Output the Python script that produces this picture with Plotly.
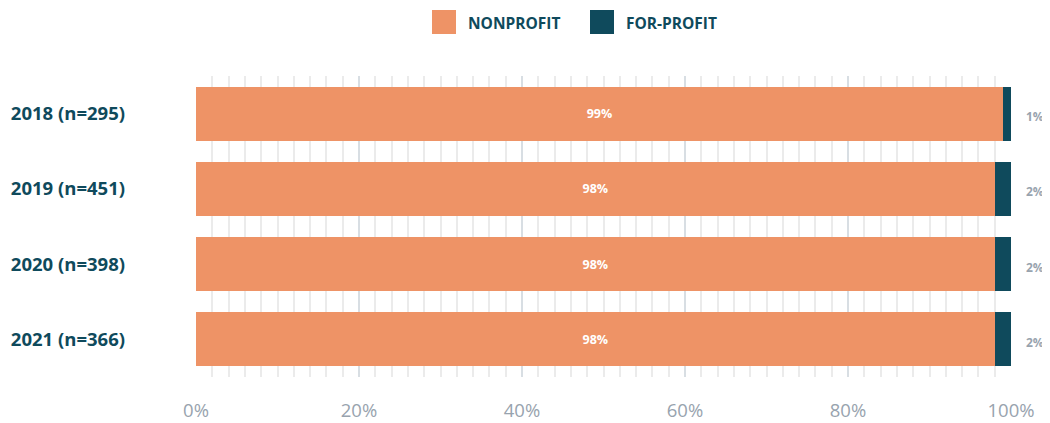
import plotly.graph_objects as go

years = ["2018 (n=295)", "2019 (n=451)", "2020 (n=398)", "2021 (n=366)"]
nonprofit = [99, 98, 98, 98]
forprofit = [1, 2, 2, 2]
series_names = ["NONPROFIT", "FOR-PROFIT"]
tick_vals = [0, 20, 40, 60, 80, 100]
tick_text = ["0%", "20%", "40%", "60%", "80%", "100%"]

orange = "#EE9366"
teal = "#0F4A5C"
grey = "#98A3AE"
font = "Open Sans"

fig = go.Figure()
fig.add_trace(go.Bar(
    y=years, x=nonprofit, orientation="h", name=series_names[0],
    marker=dict(color=orange, line=dict(width=0)),
    text=[f"{v}%" for v in nonprofit], textposition="inside",
    insidetextanchor="middle",
    textfont=dict(color="white", size=12.5, family=font, weight="bold"),
    showlegend=False, hoverinfo="skip",
))
fig.add_trace(go.Bar(
    y=years, x=forprofit, orientation="h", name=series_names[1],
    marker=dict(color=teal, line=dict(width=0)),
    textposition="none",
    showlegend=False, hoverinfo="skip",
))

# value labels to the right of each stack
for y, a, b in zip(years, nonprofit, forprofit):
    fig.add_annotation(x=a + b, y=y, xref="x", yref="y", text=f"{b}%",
                       showarrow=False, xanchor="center", xshift=24, yshift=-3,
                       font=dict(color=grey, size=12, family=font, weight="bold"))

# legend drawn at top (pixel spots converted to paper coords)
legend_x = [432, 590]
for name, col, lx in zip(series_names, [orange, teal], legend_x):
    fig.add_shape(type="rect", xref="paper", yref="paper",
                  x0=(lx - 196) / 815, x1=(lx + 24 - 196) / 815,
                  y0=(377 - 34) / 301, y1=(377 - 10) / 301,
                  fillcolor=col, line=dict(width=0))
    fig.add_annotation(xref="paper", yref="paper",
                       x=(lx + 34 - 196) / 815, y=(377 - 23) / 301,
                       text=name, showarrow=False, xanchor="left", yanchor="middle",
                       font=dict(color=teal, size=15.5, family=font, weight="bold"))

# page body has an 8px margin, so the figure is 8px smaller
fig.update_layout(
    barmode="stack", bargap=0.28,
    width=1042, height=415,
    margin=dict(l=188, r=39, t=68, b=46),
    plot_bgcolor="white", paper_bgcolor="white",
    font=dict(family=font),
    xaxis=dict(
        range=[0, 100], tickvals=tick_vals, ticktext=tick_text,
        showgrid=True, gridcolor="#D8DEE3", gridwidth=1.5,
        minor=dict(dtick=2, showgrid=True, gridcolor="#EBEBEB", gridwidth=1.5),
        zeroline=False, showline=False, ticks="",
        tickfont=dict(color=grey, size=18.5, family=font),
        ticklabelstandoff=20, automargin=False,
    ),
    yaxis=dict(
        autorange="reversed", showgrid=False, zeroline=False, ticks="",
        tickfont=dict(color=teal, size=18.5, family=font, weight="bold"),
        ticklabelstandoff=70, automargin=False,
    ),
)

fig.write_html("out.html")
